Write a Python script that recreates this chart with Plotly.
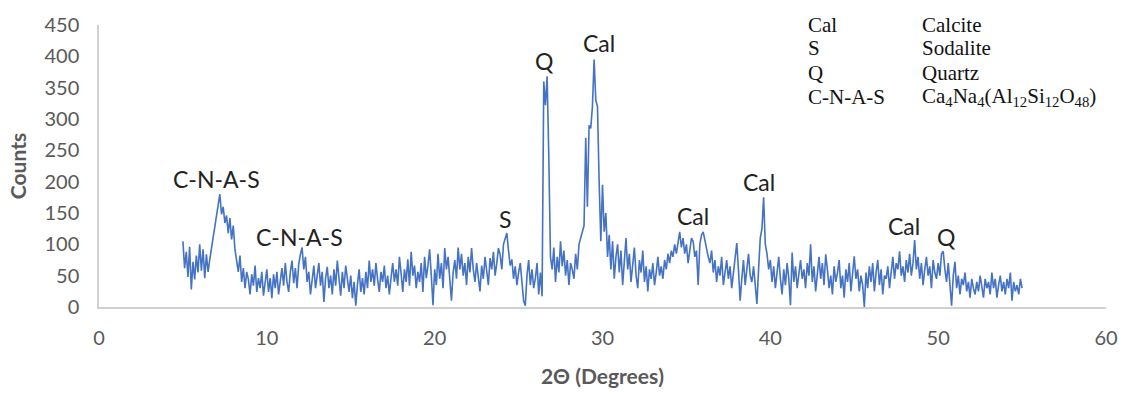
import plotly.graph_objects as go

# 2-theta scan, 5.0 to 55.0 degrees in 0.1 degree steps
two_theta_start = 5.0
two_theta_step = 0.1

counts = [
    105, 62, 88, 48, 96, 28, 72, 44, 82, 55,      # 5
    100, 58, 92, 46, 84, 56, 76, 94, 108, 128,    # 6
    142, 166, 180, 148, 160, 134, 146, 118, 142, 108,  # 7
    130, 92, 74, 56, 82, 40, 62, 30, 56, 44,      # 8
    20, 52, 34, 66, 24, 46, 30, 56, 18, 42,       # 9
    60, 24, 46, 14, 52, 30, 56, 20, 42, 62,       # 10
    34, 70, 40, 24, 56, 74, 38, 62, 30, 68,       # 11
    84, 95, 60, 80, 40, 56, 20, 46, 66, 30,       # 12
    50, 70, 34, 56, 8, 46, 64, 30, 50, 20,        # 13
    60, 34, 74, 40, 18, 56, 30, 66, 44, 24,       # 14
    50, 14, 40, 2, 36, 60, 24, 46, 20, 56,        # 15
    30, 74, 40, 60, 34, 70, 44, 24, 56, 40,       # 16
    66, 30, 50, 20, 46, 70, 40, 60, 34, 80,       # 17
    54, 24, 60, 40, 76, 34, 88, 50, 66, 30,       # 18
    56, 40, 70, 24, 80, 46, 66, 92, 50, 3,        # 19
    60, 35, 85, 45, 70, 30, 94, 60, 80, 40,       # 20
    10, 55, 75, 45, 95, 60, 85, 50, 70, 35,       # 21
    80, 55, 94, 60, 40, 70, 50, 25, 66, 45,       # 22
    80, 55, 35, 78, 60, 88, 50, 70, 94, 84,       # 23
    60, 100, 110, 118, 90, 66, 76, 45, 65, 35,    # 24
    55, 70, 40, 10, 2, 50, 75, 35, 60, 30,        # 25
    46, 70, 20, 55, 17, 360, 322, 368, 240, 80,   # 26
    60, 95, 40, 80, 55, 105, 65, 90, 50, 75,      # 27
    35, 70, 60, 45, 85, 60, 100, 110, 120, 130,   # 28
    270, 160, 290, 285, 320, 395, 330, 320, 200, 105,  # 29
    195, 120, 150, 80, 115, 60, 105, 45, 80, 100, # 30
    55, 90, 35, 75, 110, 60, 85, 40, 70, 95,      # 31
    50, 30, 75, 55, 90, 40, 65, 25, 60, 45,       # 32
    70, 35, 55, 80, 50, 65, 45, 75, 60, 85,       # 33
    70, 90, 80, 100, 85, 105, 120, 95, 110, 85,   # 34
    100, 70, 95, 110, 105, 80, 90, 35, 100, 115,  # 35
    120, 105, 95, 80, 70, 90, 55, 75, 40, 65,     # 36
    50, 80, 35, 60, 75, 45, 65, 30, 55, 70,       # 37
    102, 60, 10, 45, 75, 35, 60, 85, 50, 40,      # 38
    65, 30, 5, 60, 110, 125, 175, 100, 85, 60,    # 39
    75, 40, 65, 30, 55, 80, 45, 20, 60, 35,       # 40
    70, 45, 3, 87, 40, 65, 30, 55, 75, 45,        # 41
    60, 30, 70, 50, 100, 40, 65, 25, 55, 80,      # 42
    45, 70, 35, 84, 60, 30, 50, 20, 65, 40,       # 43
    55, 75, 30, 50, 15, 60, 40, 70, 25, 55,       # 44
    81, 45, 60, 25, 50, 35, 0, 55, 30, 65,        # 45
    40, 70, 25, 55, 75, 35, 60, 20, 50, 45,       # 46
    65, 30, 55, 80, 45, 70, 60, 89, 50, 65,       # 47
    40, 75, 55, 85, 50, 70, 107, 60, 80, 45,      # 48
    70, 35, 60, 80, 50, 65, 30, 75, 55, 45,       # 49
    70, 50, 85, 89, 60, 40, 70, 35, 2, 50,        # 50
    72, 30, 50, 20, 45, 35, 55, 25, 40, 15,       # 51
    45, 30, 20, 40, 25, 50, 35, 15, 45, 30,       # 52
    40, 20, 55, 30, 45, 15, 35, 50, 25, 40,       # 53
    20, 45, 30, 55, 10, 40, 25, 35, 20, 45,       # 54
    30,                                           # 55
]
two_theta = [round(two_theta_start + i * two_theta_step, 1) for i in range(len(counts))]

# Phase labels placed over their reflections (2-theta, counts)
peak_labels = ["C-N-A-S", "C-N-A-S", "S", "Q", "Cal", "Cal", "Cal", "Cal", "Q"]
peak_label_x = [7.02, 11.96, 24.17, 26.55, 29.82, 35.42, 39.35, 47.98, 50.48]
peak_label_y = [205, 112, 140, 392, 422, 146, 199, 129, 111]

# Key of phase abbreviations
key_abbr = ["Cal", "S", "Q", "C-N-A-S"]
key_name = ["Calcite", "Sodalite", "Quartz",
            "Ca<sub>4</sub>Na<sub>4</sub>(Al<sub>12</sub>Si<sub>12</sub>O<sub>48</sub>)"]

x_ticks = [0, 10, 20, 30, 40, 50, 60]
y_ticks = [0, 50, 100, 150, 200, 250, 300, 350, 400, 450]

AXIS_GREY = "#595959"
LINE_BLUE = "#4472C4"
SANS = "Lato, 'Open Sans', sans-serif"
SERIF = "'Liberation Serif', 'Times New Roman', serif"

fig = go.Figure()
fig.add_trace(go.Scatter(
    x=two_theta, y=counts, mode="lines",
    line=dict(color=LINE_BLUE, width=1.6),
    showlegend=False, hoverinfo="x+y",
))

annotations = []
for txt, lx, ly in zip(peak_labels, peak_label_x, peak_label_y):
    annotations.append(dict(
        x=lx, y=ly, xref="x", yref="y", text=txt, showarrow=False,
        font=dict(family=SANS, size=23, color="#222222"),
        xanchor="center", yanchor="middle",
    ))

# key rows, positioned in pixel terms relative to the plot area
plot_left, plot_width = 99, 1008
plot_bottom, plot_height = 309, 289
row_px = [20, 44, 69, 94]
for abbr, name, py in zip(key_abbr, key_name, row_px):
    yp = (plot_bottom - py) / plot_height
    annotations.append(dict(
        x=(807 - plot_left) / plot_width, y=yp, xref="paper", yref="paper",
        text=abbr, showarrow=False, xanchor="left", yanchor="middle",
        font=dict(family=SERIF, size=21, color="#111111"),
    ))
    annotations.append(dict(
        x=(921 - plot_left) / plot_width, y=yp, xref="paper", yref="paper",
        text=name, showarrow=False, xanchor="left", yanchor="middle",
        font=dict(family=SERIF, size=21, color="#111111"),
    ))

fig.update_layout(
    width=1130, height=397,
    margin=dict(l=99, r=23, t=18, b=88),
    paper_bgcolor="white", plot_bgcolor="white",
    annotations=annotations,
    xaxis=dict(
        range=[0, 60], tickvals=x_ticks, showgrid=False, zeroline=False,
        showline=True, linecolor="#D0D0D0", linewidth=1.5,
        ticks="outside", ticklen=12, tickcolor="rgba(0,0,0,0)",
        tickfont=dict(family=SANS, size=20, color=AXIS_GREY),
        title=dict(text="<b>2Θ (Degrees)</b>", standoff=22,
                   font=dict(family=SANS, size=21, color=AXIS_GREY)),
    ),
    yaxis=dict(
        range=[0, 450], tickvals=y_ticks, showgrid=False, zeroline=False,
        showline=True, linecolor="#D0D0D0", linewidth=1.5,
        ticks="outside", ticklen=14, tickcolor="rgba(0,0,0,0)",
        tickfont=dict(family=SANS, size=20, color=AXIS_GREY),
        title=dict(text="<b>Counts</b>", standoff=12,
                   font=dict(family=SANS, size=21, color=AXIS_GREY)),
    ),
)

fig.write_html("out.html")
